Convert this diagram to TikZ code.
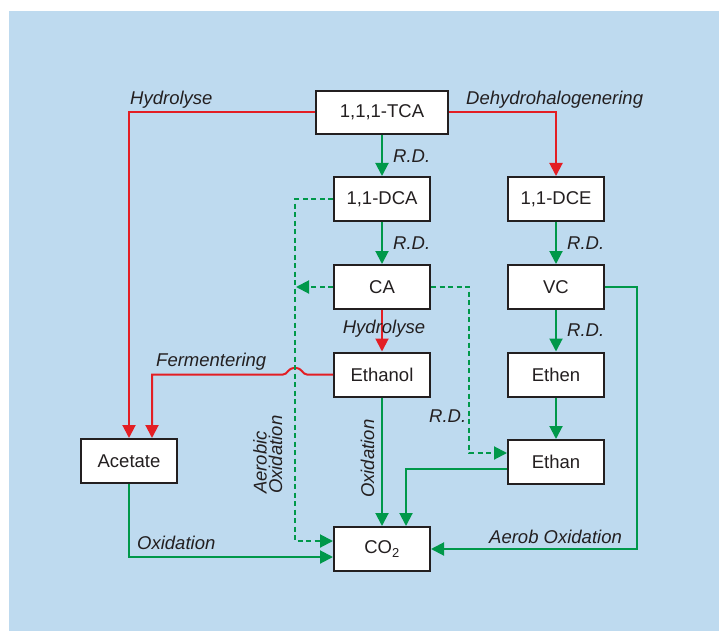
\documentclass[tikz,border=0pt]{standalone}
\usepackage{fontspec}
\setmainfont{Liberation Sans}
\usetikzlibrary{arrows.meta}
\definecolor{bgblue}{RGB}{190,218,239}
\definecolor{lgreen}{RGB}{0,152,74}
\definecolor{lred}{RGB}{227,30,36}
\definecolor{ink}{RGB}{35,31,32}
\begin{document}
\begin{tikzpicture}[x=1pt,y=-1pt,
  font=\fontsize{18.5}{21}\selectfont,
  box/.style={draw=ink,line width=2pt,fill=white,minimum width=96pt,minimum height=44pt,inner sep=0pt,text=ink},
  lab/.style={font=\fontsize{18.5}{21}\selectfont\itshape,text=ink,inner sep=0pt},
  gline/.style={draw=lgreen,line width=2pt},
  rline/.style={draw=lred,line width=2pt},
  tip/.style={-{Triangle[length=13pt,width=13pt]}},
  dsh/.style={dash pattern=on 5pt off 3.5pt}]
\fill[bgblue] (9,11) rectangle (719,631);
\useasboundingbox (0,0) rectangle (719,631);
% nodes
\node[box,minimum width=132pt,minimum height=43pt] (tca) at (382,112.5) {1,1,1-TCA};
\node[box] (dca) at (382,199) {1,1-DCA};
\node[box] (dce) at (556,199) {1,1-DCE};
\node[box] (ca) at (382,287) {CA};
\node[box] (vc) at (556,287) {VC};
\node[box] (eth) at (382,374.5) {Ethanol};
\node[box] (ethen) at (556,374.5) {Ethen};
\node[box] (ethan) at (556,462) {Ethan};
\node[box] (acet) at (129,461) {Acetate};
\node[box] (co2) at (382,549) {CO\textsubscript{2}};
% helper coordinates
\coordinate (dcaK) at (295,199);
\coordinate (caL) at (296,287);
\coordinate (caK) at (469,287);
\coordinate (vcK) at (637,287);
\coordinate (bR) at (307,374.5);
\coordinate (bL) at (283,374.5);
% red connectors
\draw[rline,tip] (tca.west) -| (acet.north);
\draw[rline,tip] (tca.east) -| (dce.north);
\draw[rline,tip] (ca) -- (eth);
\draw[rline,tip] (eth.west) -- (bR) .. controls (302,374.5) and (303,368) .. (295,368) .. controls (287,368) and (288,374.5) .. (bL) -| ([xshift=23pt]acet.north);
% green solid
\draw[gline,tip] (tca) -- (dca);
\draw[gline,tip] (dca) -- (ca);
\draw[gline,tip] (dce) -- (vc);
\draw[gline,tip] (vc) -- (ethen);
\draw[gline,tip] (ethen) -- (ethan);
\draw[gline,tip] (eth) -- (co2);
\draw[gline,tip] ([yshift=-7pt]ethan.west) -| ([xshift=24pt]co2.north);
\draw[gline,tip] (acet.south) |- ([yshift=-8pt]co2.west);
\draw[gline,tip] (vc.east) -- (vcK) |- (co2.east);
% green dashed
\draw[gline,dsh,tip] (dca.west) -- (dcaK) |- ([yshift=8pt]co2.west);
\draw[gline,dsh,tip] (ca.west) -- (caL);
\draw[gline,dsh,tip] (ca.east) -- (caK) |- ([yshift=9pt]ethan.west);
% labels
\node[lab,anchor=base west] at (130,105) {Hydrolyse};
\node[lab,anchor=base west] at (466,105) {Dehydrohalogenering};
\node[lab,anchor=base west] at (393,162) {R.D.};
\node[lab,anchor=base west] at (393,249) {R.D.};
\node[lab,anchor=base west] at (567,249) {R.D.};
\node[lab,anchor=base west] at (567,336) {R.D.};
\node[lab,anchor=base west] at (429,422) {R.D.};
\node[lab,anchor=base] at (384,333) {Hydrolyse};
\node[lab,anchor=base west] at (156,366) {Fermentering};
\node[lab,anchor=base west] at (137,549) {Oxidation};
\node[lab,anchor=base west] at (489,543) {Aerob Oxidation};
\node[lab,anchor=base west,rotate=90] at (374,498) {Oxidation};
\node[lab,rotate=90,align=left,anchor=north west,font=\fontsize{18.5}{15.5}\selectfont\itshape] at (253,494) {Aerobic\\Oxidation};
\end{tikzpicture}
\end{document}
